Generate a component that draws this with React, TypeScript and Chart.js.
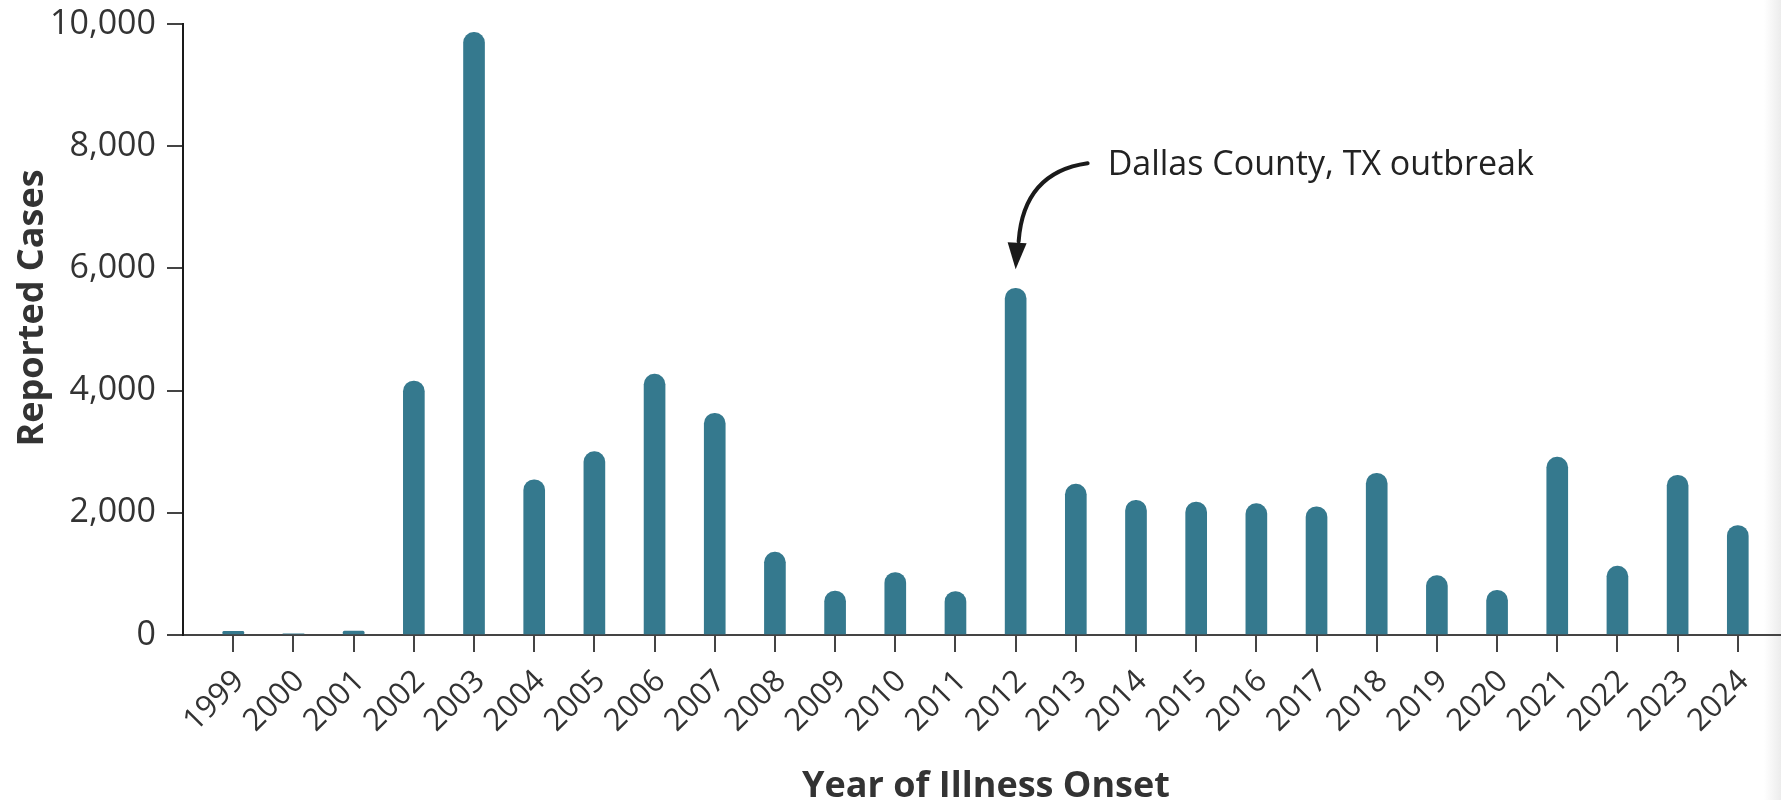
import React, { useEffect, useRef } from "react";
import { Chart, registerables } from "chart.js";

Chart.register(...registerables);

const years = [
  1999, 2000, 2001, 2002, 2003, 2004, 2005, 2006, 2007, 2008, 2009, 2010, 2011,
  2012, 2013, 2014, 2015, 2016, 2017, 2018, 2019, 2020, 2021, 2022, 2023, 2024,
];
const cases = [
  62, 21, 66, 4156, 9862, 2539, 3000, 4269, 3630, 1356, 720, 1021, 712, 5674,
  2469, 2205, 2175, 2149, 2097, 2647, 971, 731, 2911, 1126, 2614, 1791,
];
const yTickValues = [0, 2000, 4000, 6000, 8000, 10000];
const xTitle = "Year of Illness Onset";
const yTitle = "Reported Cases";
const annotationYear = 2012;
const annotationText = "Dallas County, TX outbreak";

const BAR_COLOR = "#35798e";
const TEXT_COLOR = "#333333";
const FONT = "'Open Sans', 'Noto Sans', sans-serif";

export default function App() {
  const ref = useRef<HTMLCanvasElement | null>(null);

  useEffect(() => {
    if (!ref.current) return;

    const overlay = {
      id: "overlay",
      afterDraw(chart: any) {
        const ctx = chart.ctx as CanvasRenderingContext2D;
        const xs = chart.scales.x;
        const ys = chart.scales.y;
        const idx = years.indexOf(annotationYear);
        const tipX = xs.getPixelForValue(annotationYear);
        const tipY = ys.getPixelForValue(cases[idx]) - 19;

        ctx.save();
        // arrow
        ctx.strokeStyle = "#1a1a1a";
        ctx.fillStyle = "#1a1a1a";
        ctx.lineWidth = 4;
        ctx.lineCap = "round";
        ctx.beginPath();
        ctx.moveTo(tipX + 72, tipY - 106);
        ctx.quadraticCurveTo(tipX + 8, tipY - 97, tipX + 3, tipY - 28);
        ctx.stroke();
        ctx.beginPath();
        ctx.moveTo(tipX, tipY);
        ctx.lineTo(tipX - 8, tipY - 27);
        ctx.lineTo(tipX + 11, tipY - 26);
        ctx.closePath();
        ctx.fill();

        // annotation text
        ctx.font = `400 34px ${FONT}`;
        ctx.fillStyle = "#222222";
        ctx.textAlign = "left";
        ctx.textBaseline = "alphabetic";
        ctx.fillText(annotationText, tipX + 92, tipY - 94);

        // axis titles
        ctx.font = `700 36px ${FONT}`;
        ctx.fillStyle = TEXT_COLOR;
        ctx.textAlign = "center";
        const ca = chart.chartArea;
        ctx.fillText(xTitle, (ca.left + ca.right) / 2 + 4, 797);

        ctx.translate(43, 308);
        ctx.rotate(-Math.PI / 2);
        ctx.fillText(yTitle, 0, 0);
        ctx.restore();
      },
    };

    const chart = new Chart(ref.current, {
      type: "bar",
      data: {
        datasets: [
          {
            data: years.map((yr, i) => ({ x: yr, y: cases[i] })),
            backgroundColor: BAR_COLOR,
            borderWidth: 0,
            borderRadius: 11,
            borderSkipped: "start",
            barThickness: 21,
          },
        ],
      },
      options: {
        animation: false,
        responsive: false,
        layout: { padding: { top: 24, right: 0, bottom: 0, left: 0 } },
        plugins: {
          legend: { display: false },
          tooltip: { enabled: false },
          title: { display: false },
        },
        scales: {
          x: {
            type: "linear",
            offset: false,
            min: 1998.164,
            max: 2024.718,
            afterBuildTicks: (axis: any) => {
              axis.ticks = years.map((v) => ({ value: v }));
            },
            afterFit: (scale: any) => {
              scale.height = 165;
              scale.paddingLeft = 0;
              scale.paddingRight = 0;
            },
            ticks: {
              autoSkip: false,
              minRotation: 45,
              maxRotation: 45,
              padding: 11,
              labelOffset: 6,
              color: TEXT_COLOR,
              font: { family: FONT, size: 31 },
              callback: (v: any) => String(v),
            },
            grid: {
              display: true,
              offset: false,
              drawOnChartArea: false,
              drawTicks: true,
              tickLength: 17,
              color: "#444444",
              lineWidth: 2,
            },
            border: { display: true, color: "#444444", width: 2 },
          },
          y: {
            type: "linear",
            min: 0,
            max: 10000,
            afterBuildTicks: (axis: any) => {
              axis.ticks = yTickValues.map((v) => ({ value: v }));
            },
            afterFit: (scale: any) => {
              scale.width = 183;
              scale.paddingTop = 0;
              scale.paddingBottom = 0;
            },
            ticks: {
              padding: 11,
              color: TEXT_COLOR,
              font: { family: FONT, size: 34 },
              callback: (v: any) => Number(v).toLocaleString("en-US"),
            },
            grid: {
              display: true,
              drawOnChartArea: false,
              drawTicks: true,
              tickLength: 16,
              color: "#444444",
              lineWidth: 2,
            },
            border: { display: true, color: "#1a1a1a", width: 2 },
          },
        },
      },
      plugins: [overlay],
    } as any);

    return () => chart.destroy();
  }, []);

  return (
    <div
      style={{
        position: "absolute",
        left: 0,
        top: 0,
        width: 1781,
        height: 800,
        background: "#ffffff",
        overflow: "hidden",
      }}
    >
      <div
        style={{
          position: "absolute",
          left: 1764,
          top: 0,
          width: 17,
          height: 800,
          background: "linear-gradient(to right, #ffffff, #ececec)",
        }}
      />
      <canvas
        ref={ref}
        width={1781}
        height={800}
        style={{ position: "absolute", left: 0, top: 0, width: 1781, height: 800 }}
      />
    </div>
  );
}
